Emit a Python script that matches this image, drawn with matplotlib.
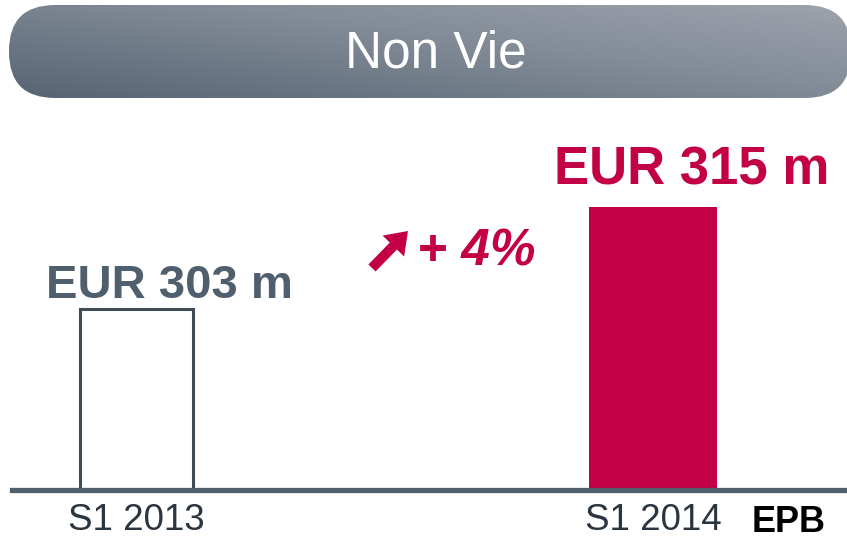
import numpy as np
import matplotlib
matplotlib.use("Agg")
import matplotlib.pyplot as plt
from matplotlib.patches import FancyBboxPatch, FancyArrow
from matplotlib.colors import LinearSegmentedColormap

# ---- data ----
title = "Non Vie"
categories = ["S1 2013", "S1 2014"]
values = [303, 315]
value_labels = ["EUR 303 m", "EUR 315 m"]
growth_label = "+ 4%"
source_label = "EPB"

plt.rcParams['font.family'] = ['Liberation Sans', 'DejaVu Sans']

W, H = 847, 541
fig = plt.figure(figsize=(W / 100, H / 100), dpi=100)

CRIMSON = "#c30045"
SLATE = "#4f5f6d"

def px_axes(x0, y0, x1, y1):
    # pixel box (top-left origin) -> figure fraction rect
    return [x0 / W, 1 - y1 / H, (x1 - x0) / W, (y1 - y0) / H]

# ---- main bar axes ----
ax = fig.add_axes(px_axes(12, 100, 847, 490))
x = np.arange(len(categories))
widths = [0.219, 0.248]
ax.bar(x[0], values[0], width=widths[0], bottom=0, facecolor="white",
       edgecolor="#3f4b56", linewidth=2.2, zorder=2)
ax.bar(x[1], values[1], width=widths[1], bottom=0, facecolor=CRIMSON,
       edgecolor="none", zorder=2)
ax.set_ylim(281.7, 327.6)
ax.set_xlim(-0.2411, 1.3756)
for s in ["top", "right", "left"]:
    ax.spines[s].set_visible(False)
ax.spines["bottom"].set_color(SLATE)
ax.spines["bottom"].set_linewidth(3.8)
ax.spines["bottom"].set_zorder(3)
ax.set_yticks([])
ax.set_xticks(x)
ax.set_xticklabels(categories, fontsize=26.5, color="#2b3540")
ax.tick_params(axis="x", length=0, pad=9)

label_colors = [SLATE, CRIMSON]
label_sizes = [34, 38]
label_offsets = [(24, 8), (28, 16)]
for i, (v, lab) in enumerate(zip(values, value_labels)):
    ax.annotate(lab, xy=(x[i], v), xytext=label_offsets[i], textcoords="offset points",
                ha="center", va="baseline", fontsize=label_sizes[i],
                fontweight="bold", color=label_colors[i], annotation_clip=False)

# ---- overlay axes in pixel coordinates ----
bg = fig.add_axes([0, 0, 1, 1], zorder=-1)
bg.set_xlim(0, W)
bg.set_ylim(H, 0)
bg.axis("off")

# banner with gradient
bx0, by0, bx1, by1 = 9, 5, 851, 98
cmap = LinearSegmentedColormap.from_list("ban", ["#566473", "#7d8793", "#9ea3ad"])
gx = np.linspace(0, 1, 400)
gy = np.linspace(0, 1, 60)
GX, GY = np.meshgrid(gx, gy)
grad = 0.55 * GX + 0.45 * (1 - GY)  # lighter to upper-right
im = bg.imshow(grad, cmap=cmap, extent=(bx0, bx1, by1, by0), aspect="auto",
               interpolation="bilinear", zorder=1)
patch = FancyBboxPatch((bx0, by0), bx1 - bx0, by1 - by0,
                       boxstyle="round,pad=0,rounding_size=46",
                       facecolor="none", edgecolor="none", transform=bg.transData)
bg.add_patch(patch)
im.set_clip_path(patch)
bg.text(436, 54, title, ha="center", va="center", fontsize=37, color="white", zorder=2)

# growth arrow and label
top = fig.add_axes([0, 0, 1, 1], zorder=5)
top.set_xlim(0, W)
top.set_ylim(H, 0)
top.axis("off")
top.add_patch(FancyArrow(372, 268, 36, -37, width=10, head_width=30, head_length=21,
                         length_includes_head=True, color=CRIMSON, linewidth=0))
top.text(417, 265, growth_label, ha="left", va="baseline", fontsize=37,
         fontweight="bold", fontstyle="italic", color=CRIMSON)
top.text(789, 532, source_label, ha="center", va="baseline", fontsize=26,
         fontweight="bold", color="black")

fig.savefig("out.png", dpi=100)
